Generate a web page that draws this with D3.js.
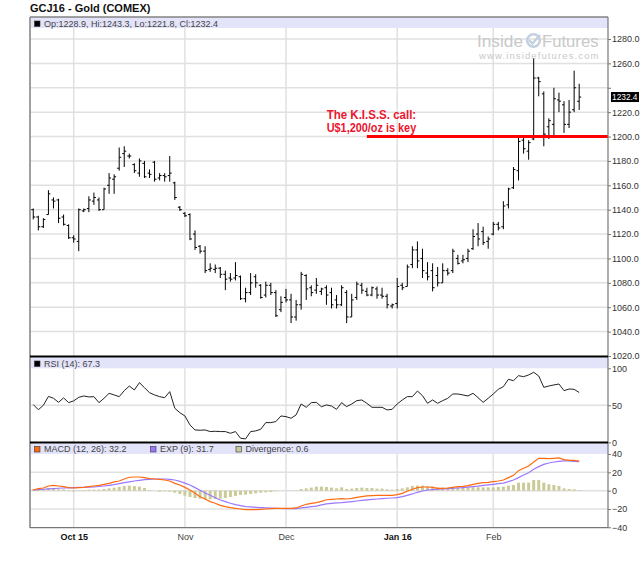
<!DOCTYPE html>
<html><head><meta charset="utf-8">
<script src="https://cdn.jsdelivr.net/npm/d3@7"></script>
<style>
html,body{margin:0;padding:0;background:#fff;}
svg{display:block;font-family:"Liberation Sans",Arial,sans-serif;}
</style></head><body>
<svg id="c" width="640" height="562"></svg>
<script>
// ---------- DATA ----------
const title = "GCJ16 - Gold (COMEX)";
const firstDay = "2015-09-21", lastDay = "2016-02-25";
const holidays = ["2015-11-26","2015-12-25","2016-01-01","2016-01-18","2016-02-15"];
const tickMonths = ["2015-10","2015-11","2015-12","2016-01","2016-02"];
const tickLabels = ["Oct 15","Nov","Dec","Jan 16","Feb"];
const priceTicks = [1020,1040,1060,1080,1100,1120,1140,1160,1180,1200,1220,1240,1260,1280];
const rsiTicks = [0,50,100];
const macdTicks = [-40,-20,0,20,40];

const open = [1140,1134,1126,1136,1148,1148,1134,1127,
 1117,1114,1139,1141,1147,1148,1140,1160,1165,1174,
 1186,1184,1177,1170,1178,1170,1179,1166,1168,1168,
 1162,1142,1137,1136,1120,1110,1106,1091,1091,1092,
 1087,1084,1084,1085,1067,1072,1085,1078,1070,1078,
 1072,1058,1068,1066,1052,1062,1086,1076,1074,1073,
 1076,1072,1066,1062,1072,1052,1068,1078,1073,1070,
 1075,1070,1069,1061,1063,1078,1077,1095,1107,1100,
 1088,1090,1086,1080,1090,1090,1100,1098,1100,1108,
 1120,1122,1114,1120,1128,1126,1144,1158,1172,1197,
 1188,1198,1248,1235,1208,1210,1230,1226,1210,1222,1228.9];
const high = [1141,1135,1133,1156,1150,1149,1136,1128,
 1119,1141,1141,1151,1154,1150,1158,1170,1169,1191,
 1192,1186,1178,1182,1180,1173,1180,1170,1170,1184,
 1163,1143,1138,1137,1123,1111,1110,1096,1095,1093,
 1090,1088,1097,1086,1076,1088,1087,1079,1081,1080,
 1074,1069,1075,1071,1066,1089,1087,1078,1084,1076,
 1078,1076,1070,1078,1074,1071,1081,1080,1076,1077,
 1077,1076,1071,1063,1084,1080,1095,1110,1114,1108,
 1097,1096,1093,1096,1092,1108,1103,1103,1108,1124,
 1129,1126,1118,1130,1130,1147,1158,1175,1199,1199,
 1197,1264,1249,1237,1215,1240,1236,1229,1230,1254,1243.3];
const low = [1132,1123,1125,1136,1141,1129,1127,1116,
 1113,1106,1138,1138,1144,1139,1140,1153,1153,1172,
 1175,1182,1170,1167,1166,1166,1163,1164,1163,1163,
 1148,1139,1134,1115,1107,1104,1088,1089,1088,1084,
 1074,1081,1082,1066,1064,1070,1076,1067,1068,1070,
 1052,1056,1064,1047,1049,1058,1066,1069,1071,1070,
 1062,1059,1059,1061,1047,1052,1066,1071,1069,1069,
 1067,1067,1059,1059,1059,1074,1077,1092,1092,1084,
 1082,1073,1077,1080,1086,1088,1095,1096,1097,1107,
 1110,1111,1108,1119,1123,1124,1141,1157,1164,1186,
 1181,1197,1233,1192,1198,1200,1220,1203,1207,1220,1221.8];
const close = [1134,1126,1132,1153,1147,1133,1128,1117,
 1116,1140,1140,1148,1150,1140,1157,1166,1167,1183,
 1188,1184,1172,1180,1167,1169,1165,1168,1167,1170,
 1150,1140,1135,1116,1109,1106,1090,1092,1092,1087,
 1083,1083,1086,1067,1072,1080,1080,1068,1078,1072,
 1053,1064,1066,1052,1062,1087,1075,1072,1078,1075,
 1070,1062,1062,1076,1052,1066,1079,1074,1070,1076,
 1070,1069,1062,1062,1077,1076,1093,1107,1098,1090,
 1085,1076,1080,1090,1088,1106,1096,1099,1106,1118,
 1116,1113,1116,1128,1125,1143,1157,1173,1196,1190,
 1195,1248,1245,1202,1213,1231,1229,1210,1220,1240,1232.4];
const rsi = [51,44,50,62,59.5,54,60,53.6,
 56,60.8,62.6,61.3,61.7,53.6,59.5,66.2,64,61.7,
 69.8,76,70.7,80.6,73.9,67,64,61.7,60.3,68.5,
 46,40,35.6,23.5,16.7,16.3,16.7,14.5,14.9,14.5,
 14.5,12.2,14.5,5.5,4.6,14.5,15.4,17.6,26.6,26.6,
 28,35.6,34.7,32.5,37,51.8,47.3,53.6,54,48,
 50.5,49,44.6,53.6,48.2,51.8,56.3,57.2,52.7,47.3,
 47.3,47.3,43.7,44.6,51.8,57.2,61.7,61.7,69.3,63,
 52.7,57.2,52.7,56.3,59.5,65.3,65.3,64,62.6,66.2,
 60.3,54,59.5,65.3,71.6,75.2,85.1,83.3,90,88.7,
 91,94.6,89.6,74.3,76.1,77.5,78.8,69.8,72,71.6,67.3];
const macd = [0.7,2.2,2.9,5.1,5.8,5.1,4.4,3.3,
 2.9,3.3,3.6,4.4,5.1,5.8,6.9,8,9.5,10.5,
 12.7,14.6,14.9,14.9,14.2,13.1,12.7,12.4,11.6,10.5,
 8,6.2,3.6,0.7,-2.9,-6.6,-9.1,-12,-13.8,-16,
 -17.5,-18.6,-19.3,-20,-20.8,-20.8,-20.8,-20.4,-20,-19.7,
 -19.3,-19.3,-19.3,-19.3,-18.9,-16.8,-14.9,-13.8,-13.1,-11.7,
 -9.9,-9.5,-9.1,-8.7,-9.1,-8.4,-7.3,-6.6,-5.8,-5.5,
 -5.1,-5.1,-5.1,-5.1,-4.4,-2.9,-0.7,1.5,3.3,4,
 4,3.6,2.5,2.5,2.9,3.6,4.4,4.7,5.5,6.9,
 8,8.7,9.1,9.8,10.5,11.6,14.2,16.7,21.8,24.4,
 26.9,31.3,35.3,35.3,35,35.3,35.7,33.8,33.1,33.1,32.2];
const signal = [0.7,1.1,1.5,1.9,2.2,2.6,2.9,3.1,
 3.3,3.5,3.6,3.8,4.0,4.5,5.1,5.8,6.6,7.6,
 8.7,9.6,10.5,11.3,12.0,12.4,12.7,12.7,12.7,12.2,
 11.6,10.2,8.2,6.2,3.3,0.4,-2.6,-5.1,-7.7,-10.2,
 -12,-13.8,-15.3,-16.4,-17.5,-17.8,-18.2,-18.6,-18.9,-19.1,
 -19.3,-19.5,-19.7,-19.7,-19.7,-18.9,-18.2,-17.5,-16.8,-15.5,
 -14.5,-13.8,-13.4,-13.1,-12.6,-12,-11.3,-10.6,-10.1,-9.5,
 -9.1,-8.7,-8.3,-8,-7.7,-6.6,-5.1,-3.6,-1.8,-0.4,
 0.7,1.1,1.5,1.8,2.2,2.5,2.9,3.3,3.8,4.4,
 5,5.8,6.3,6.9,7.6,8.3,9.8,11.6,14.2,17.1,
 19.6,23.3,26.2,28.7,30.2,31.3,32,32.4,32.4,32,31.7];
const divergence = [1.5,1.5,1.8,2.9,2.5,1.5,1.5,0.7,
 -1.1,0.4,0.7,1.1,1.1,1.1,1.8,2.5,3.3,4.0,
 5.1,5.5,5.1,4.4,2.9,0.7,0,-1.1,-0.7,-1.1,
 -2.2,-3.6,-5.5,-6.9,-8.0,-8.7,-9.5,-9.5,-9.1,-8.7,
 -8.0,-6.9,-5.8,-4.7,-4.4,-3.6,-2.9,-2.2,-1.8,-1.5,
 -0.6,0,0,0,0.4,1.8,2.5,3.3,4.4,4.4,
 4,3.3,2.5,3.6,1.8,2.2,2.9,3.3,2.9,2.9,
 2.2,2.2,1.5,1.1,1.8,2.5,3.6,5.1,5.5,5.5,
 4.7,4.4,3.6,3.3,3.3,3.6,3.6,3.3,3.6,3.6,
 3.6,3.6,3.6,3.6,4,4.4,5.5,6.2,8.7,8.7,
 8.7,11.6,11.6,8.7,6.9,6.2,5.1,2.5,1.8,1.5,0.6];
const annotPrice = 1200;
const annotStart = "2015-12-23";
const annotText = ["The K.I.S.S. call:", "U$1,200/oz is key"];

// ---------- SETUP ----------
const svg = d3.select("#c");
const L = 30, R = 608;
const fmtDay = d3.timeFormat("%Y-%m-%d"), fmtMonth = d3.timeFormat("%Y-%m");
const parse = d3.timeParse("%Y-%m-%d");
const dates = d3.timeDay.range(parse(firstDay), d3.timeDay.offset(parse(lastDay), 1))
  .filter(d => d.getDay() !== 0 && d.getDay() !== 6 && !holidays.includes(fmtDay(d)));
const n = close.length;
const idx = d3.range(n);
const monthIdx = tickMonths.map(m => dates.findIndex(d => fmtMonth(d) === m));

const x = d3.scaleLinear().domain([-0.645, 113.7]).range([L, R]);
const yP = d3.scaleLinear().domain([1020, 1280]).range([356, 39]);
const yR = d3.scaleLinear().domain([0, 100]).range([442.3, 368.3]);
const yM = d3.scaleLinear().domain([-40, 40]).range([527.3, 454]);

const gridC = "#e0e0e0";
const grid = svg.append("g").attr("stroke", gridC).attr("stroke-width", 1.5);
grid.selectAll(".hp").data(priceTicks.filter(t => t > 1020)).join("line").attr("class","hp")
  .attr("x1", L).attr("x2", R).attr("y1", d => yP(d)).attr("y2", d => yP(d));
grid.selectAll(".hr").data([50]).join("line").attr("class","hr")
  .attr("x1", L).attr("x2", R).attr("y1", d => yR(d)).attr("y2", d => yR(d));
grid.selectAll(".hm").data([-20, 0, 20]).join("line").attr("class","hm")
  .attr("x1", L).attr("x2", R).attr("y1", d => yM(d)).attr("y2", d => yM(d));
grid.selectAll(".v").data(monthIdx).join("line").attr("class","v")
  .attr("x1", d => x(d)).attr("x2", d => x(d)).attr("y1", 17).attr("y2", 527.3);

// legend strips
const strip = "#e3e3f9";
svg.append("rect").attr("x", L+1).attr("y", 17.5).attr("width", R-L-1).attr("height", 10.5).attr("fill", strip);
svg.append("rect").attr("x", L+1).attr("y", 357.5).attr("width", R-L-1).attr("height", 10.8).attr("fill", strip);
svg.append("rect").attr("x", L+1).attr("y", 443.5).attr("width", R-L-1).attr("height", 10.5).attr("fill", strip);

// watermark
const wm = svg.append("g").attr("fill", "#c9c9c9");
wm.append("text").attr("x", 477).attr("y", 46.5).attr("font-size", 17).attr("textLength", 46)
  .attr("lengthAdjust", "spacingAndGlyphs").text("Inside");
wm.append("circle").attr("cx", 533.5).attr("cy", 40.5).attr("r", 6.3).attr("fill", "none")
  .attr("stroke", "#c4d0e0").attr("stroke-width", 2.6);
wm.append("path").attr("d", "M529,40 L532.5,43.5 L540,35").attr("fill", "none")
  .attr("stroke", "#c4d0e0").attr("stroke-width", 2.4);
wm.append("text").attr("x", 542).attr("y", 46.5).attr("font-size", 17).attr("textLength", 56.5)
  .attr("lengthAdjust", "spacingAndGlyphs").text("Futures");
wm.append("text").attr("x", 479).attr("y", 58.8).attr("font-size", 9.5).attr("textLength", 119.5)
  .attr("lengthAdjust", "spacing").text("www.insidefutures.com");

// OHLC bars
svg.append("g").attr("stroke", "#000").attr("stroke-width", 1).attr("fill", "none")
  .selectAll("path").data(idx).join("path")
  .attr("d", i => {
    const xi = x(i);
    return `M${xi},${yP(high[i])}V${yP(low[i])}M${xi-2},${yP(open[i])}H${xi}M${xi},${yP(close[i])}H${xi+2}`;
  });

// RSI
svg.append("path").datum(rsi).attr("fill", "none").attr("stroke", "#222").attr("stroke-width", 1)
  .attr("d", d3.line().x((d, i) => x(i)).y(d => yR(d)));

// MACD
svg.append("g").attr("fill", "#cbcb99").selectAll("rect").data(idx).join("rect")
  .attr("x", i => x(i) - 1.5).attr("width", 3)
  .attr("y", i => Math.min(yM(0), yM(divergence[i])))
  .attr("height", i => Math.abs(yM(divergence[i]) - yM(0)));
svg.append("path").datum(signal).attr("fill", "none").attr("stroke", "#9b77ff").attr("stroke-width", 1.2)
  .attr("d", d3.line().x((d, i) => x(i)).y(d => yM(d)));
svg.append("path").datum(macd).attr("fill", "none").attr("stroke", "#ff6a10").attr("stroke-width", 1.2)
  .attr("d", d3.line().x((d, i) => x(i)).y(d => yM(d)));

// annotation
const aIdx = dates.findIndex(d => fmtDay(d) === annotStart);
svg.append("line").attr("x1", x(aIdx)).attr("x2", R).attr("y1", yP(annotPrice)).attr("y2", yP(annotPrice))
  .attr("stroke", "#f00").attr("stroke-width", 3);
svg.selectAll(".ann").data(annotText).join("text").attr("class","ann")
  .attr("x", 326.7).attr("y", (d, k) => 118.5 + k * 13.5).attr("font-size", 12).attr("font-weight", "bold")
  .attr("textLength", 89.5).attr("lengthAdjust", "spacingAndGlyphs")
  .attr("fill", "#ec1530").text(d => d);

// frame
const fr = svg.append("g").attr("fill", "none");
fr.append("line").attr("x1", L).attr("x2", R).attr("y1", 17).attr("y2", 17).attr("stroke", "#444").attr("stroke-width", 1);
fr.append("line").attr("x1", L).attr("x2", L).attr("y1", 17).attr("y2", 528).attr("stroke", "#888").attr("stroke-width", 1.6);
fr.append("line").attr("x1", R).attr("x2", R).attr("y1", 17).attr("y2", 528).attr("stroke", "#777").attr("stroke-width", 1.2);
fr.append("line").attr("x1", L).attr("x2", R).attr("y1", 527.6).attr("y2", 527.6).attr("stroke", "#777").attr("stroke-width", 1.2);
fr.append("line").attr("x1", L).attr("x2", R).attr("y1", 356.6).attr("y2", 356.6).attr("stroke", "#000").attr("stroke-width", 2);
fr.append("line").attr("x1", L).attr("x2", R).attr("y1", 442.6).attr("y2", 442.6).attr("stroke", "#000").attr("stroke-width", 2);

// legends
function legend(xs, y, color, text) {
  svg.append("rect").attr("x", xs).attr("y", y - 5.5).attr("width", 5.5).attr("height", 5.5)
    .attr("fill", color).attr("stroke", "#333").attr("stroke-width", 0.6);
  svg.append("text").attr("x", xs + 9.5).attr("y", y).attr("font-size", 9).attr("fill", "#444").text(text);
}
const last = n - 1, f1 = d3.format(".1f");
legend(34.5, 26.5, "#000", `Op:${f1(open[last])}, Hi:${f1(high[last])}, Lo:${f1(low[last])}, Cl:${f1(close[last])}`);
legend(34.5, 366.5, "#000", `RSI (14): ${f1(rsi[last])}`);
legend(34.5, 452, "#ff6a10", `MACD (12, 26): ${f1(macd[last])}`);
legend(150.5, 452, "#9b77ff", `EXP (9): ${f1(signal[last])}`);
legend(236, 452, "#cbcb99", `Divergence: ${f1(divergence[last])}`);

// title
svg.append("text").attr("x", 30).attr("y", 11.5).attr("font-size", 11).attr("font-weight", "bold")
  .attr("fill", "#111").text(title);

// axes
function styleAxis(g) {
  g.select(".domain").remove();
  g.selectAll(".tick line").attr("stroke", "#777");
  g.selectAll(".tick text").attr("font-size", 9).attr("fill", "#333")
    .attr("font-family", '"Liberation Sans",Arial,sans-serif');
}
const boxY = yP(close[last]);
const axP = svg.append("g").attr("transform", `translate(${R},0)`)
  .call(d3.axisRight(yP).tickValues(priceTicks).tickFormat(f1).tickSize(3).tickPadding(1)).call(styleAxis);
axP.selectAll(".tick text").attr("display", d => Math.abs(yP(d) - boxY) < 11 ? "none" : null);
svg.append("g").attr("transform", `translate(${R},0)`)
  .call(d3.axisRight(yR).tickValues(rsiTicks).tickFormat(d3.format("d")).tickSize(3).tickPadding(1)).call(styleAxis);
svg.append("g").attr("transform", `translate(${R},0)`)
  .call(d3.axisRight(yM).tickValues(macdTicks).tickFormat(d3.format("d")).tickSize(3).tickPadding(1)).call(styleAxis);

// last price box
svg.append("rect").attr("x", 611).attr("y", boxY - 5).attr("width", 28).attr("height", 10).attr("fill", "#000");
svg.append("text").attr("x", 612).attr("y", boxY + 3.3).attr("font-size", 9).attr("textLength", 25.5)
  .attr("lengthAdjust", "spacingAndGlyphs").attr("fill", "#fff").text(f1(close[last]));

// x axis
const axX = svg.append("g").attr("transform", `translate(0,527.3)`)
  .call(d3.axisBottom(x).tickValues(monthIdx).tickFormat((d, k) => tickLabels[k]).tickSize(0).tickPadding(6))
  .call(styleAxis);
axX.selectAll(".tick text").attr("font-weight", (d, k) => tickLabels[k].includes(" ") ? "bold" : null)
  .attr("fill", (d, k) => tickLabels[k].includes(" ") ? "#111" : "#444");
</script></body></html>
